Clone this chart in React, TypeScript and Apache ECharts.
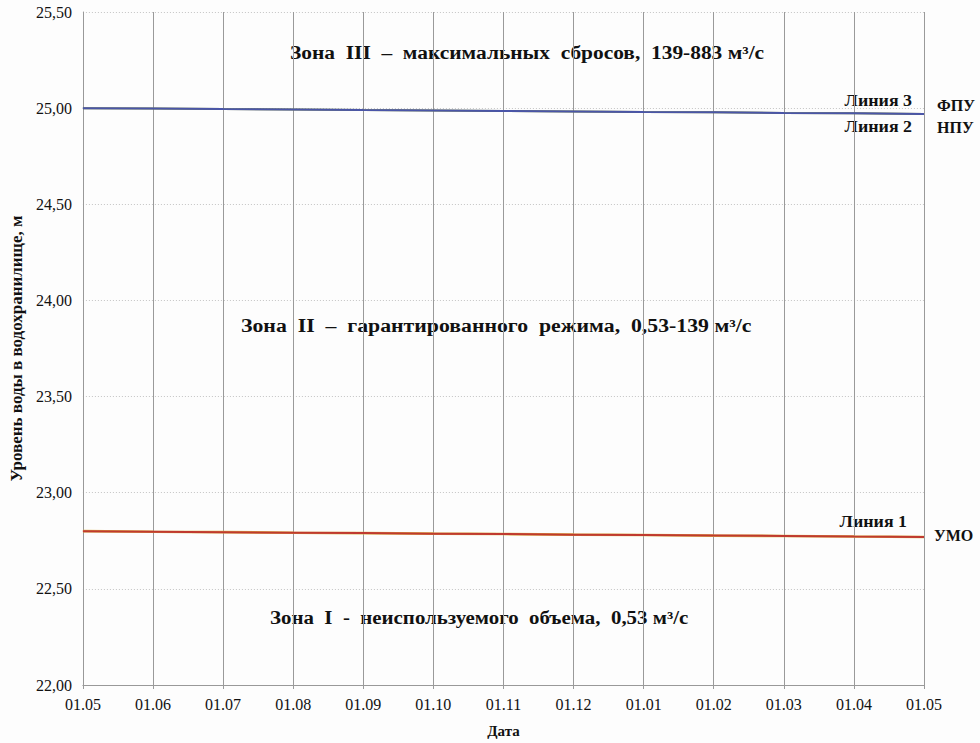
import React, { useEffect, useRef } from "react";
import * as echarts from "echarts";

const categories = ["01.05", "01.06", "01.07", "01.08", "01.09", "01.10", "01.11", "01.12", "01.01", "01.02", "01.03", "01.04", "01.05"];
const line3 = [25.0, 24.998, 24.995, 24.993, 24.99, 24.988, 24.985, 24.983, 24.98, 24.978, 24.975, 24.973, 24.97];
const line2 = [25.0, 24.998, 24.995, 24.993, 24.99, 24.988, 24.985, 24.983, 24.98, 24.978, 24.975, 24.973, 24.97];
const line1 = [22.8, 22.797, 22.795, 22.792, 22.79, 22.787, 22.785, 22.782, 22.78, 22.777, 22.775, 22.772, 22.77];
const yMin = 22;
const yMax = 25.5;
const yStep = 0.5;
const zoneTexts = [
  "Зона  III  –  максимальных  сбросов,  139-883 м³/с",
  "Зона  II  –  гарантированного  режима,  0,53-139 м³/с",
  "Зона  I  -  неиспользуемого  объема,  0,53 м³/с",
];
const lineNames = ["Линия 3", "Линия 2", "Линия 1"];
const levelNames = ["ФПУ", "НПУ", "УМО"];

const FONT = "Times New Roman, Liberation Serif, serif";

export default function App() {
  const ref = useRef<HTMLDivElement>(null);
  useEffect(() => {
    if (!ref.current) return;
    const chart = echarts.init(ref.current, null, { renderer: "svg" });
    const bold = { fontFamily: FONT, fontWeight: "bold" as const, fill: "#111" };
    chart.setOption({
      animation: false,
      backgroundColor: "#fdfdfd",
      grid: { left: 76, right: 56, top: 12, bottom: 57, containLabel: false },
      xAxis: {
        type: "category",
        data: categories,
        boundaryGap: false,
        name: "Дата",
        nameLocation: "middle",
        nameGap: 38,
        nameTextStyle: { fontFamily: FONT, fontWeight: "bold", fontSize: 15, color: "#111" },
        axisLine: { lineStyle: { color: "#999", width: 1 } },
        axisTick: { show: true, length: 4, lineStyle: { color: "#999" } },
        axisLabel: { interval: 0, fontFamily: FONT, fontSize: 16, color: "#111", margin: 11 },
        splitLine: { show: true, lineStyle: { color: "#9a9a9a", width: 1 } },
      },
      yAxis: {
        type: "value",
        min: yMin,
        max: yMax,
        interval: yStep,
        name: "Уровень воды в водохранилище, м",
        nameLocation: "middle",
        nameGap: 57,
        nameTextStyle: { fontFamily: FONT, fontWeight: "bold", fontSize: 17, color: "#111" },
        axisLine: { show: true, lineStyle: { color: "#999", width: 1 } },
        axisTick: { show: false },
        axisLabel: {
          fontFamily: FONT,
          fontSize: 16,
          color: "#111",
          margin: 11,
          formatter: (v: number) => v.toFixed(2).replace(".", ","),
        },
        splitLine: { show: true, lineStyle: { color: "#c4c4c4", width: 1, type: [1, 2] } },
      },
      series: [
        {
          name: lineNames[1],
          type: "line",
          data: line2,
          symbol: "none",
          lineStyle: { color: "#7a8a3a", width: 2 },
          z: 2,
        },
        {
          name: lineNames[0],
          type: "line",
          data: line3,
          symbol: "none",
          lineStyle: { color: "#4a55a8", width: 2 },
          z: 3,
        },
        {
          name: lineNames[2] + " (подложка)",
          type: "line",
          data: line1,
          symbol: "none",
          lineStyle: { color: "#d9b24a", width: 2.6 },
          z: 2,
        },
        {
          name: lineNames[2],
          type: "line",
          data: line1,
          symbol: "none",
          lineStyle: { color: "#c0392f", width: 2 },
          z: 3,
        },
      ],
      graphic: [
        { type: "text", x: 290, y: 53, scaleX: 1.19, style: { ...bold, text: zoneTexts[0], fontSize: 18, textVerticalAlign: "middle" } },
        { type: "text", x: 241, y: 326, scaleX: 1.21, style: { ...bold, text: zoneTexts[1], fontSize: 18, textVerticalAlign: "middle" } },
        { type: "text", x: 270, y: 618, scaleX: 1.16, style: { ...bold, text: zoneTexts[2], fontSize: 18, textVerticalAlign: "middle" } },
        { type: "text", x: 912, y: 101, scaleX: 1.12, style: { ...bold, text: lineNames[0], fontSize: 16, textAlign: "right", textVerticalAlign: "middle" } },
        { type: "text", x: 912, y: 127, scaleX: 1.12, style: { ...bold, text: lineNames[1], fontSize: 16, textAlign: "right", textVerticalAlign: "middle" } },
        { type: "text", x: 907, y: 522, scaleX: 1.12, style: { ...bold, text: lineNames[2], fontSize: 16, textAlign: "right", textVerticalAlign: "middle" } },
        { type: "text", x: 937, y: 105, style: { ...bold, text: levelNames[0], fontSize: 16, textVerticalAlign: "middle" } },
        { type: "text", x: 937, y: 127, style: { ...bold, text: levelNames[1], fontSize: 16, textVerticalAlign: "middle" } },
        { type: "text", x: 934, y: 535, style: { ...bold, text: levelNames[2], fontSize: 16, textVerticalAlign: "middle" } },
      ],
    });
    return () => chart.dispose();
  }, []);
  return <div ref={ref} style={{ width: 980, height: 743, position: "absolute", left: 0, top: 0 }} />;
}
